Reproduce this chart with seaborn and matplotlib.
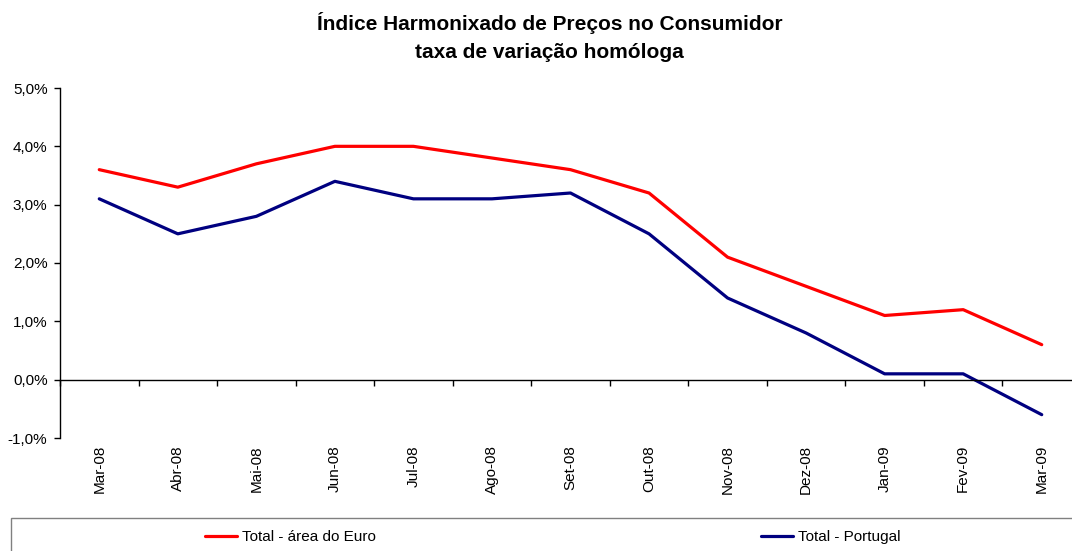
import numpy as np
import pandas as pd
import matplotlib
matplotlib.use("Agg")
import matplotlib.pyplot as plt
from matplotlib.patches import Rectangle
from matplotlib.lines import Line2D
import seaborn as sns

# data (% year-on-year)
months = ["Mar-08", "Abr-08", "Mai-08", "Jun-08", "Jul-08", "Ago-08", "Set-08",
          "Out-08", "Nov-08", "Dez-08", "Jan-09", "Fev-09", "Mar-09"]
euro = [3.6, 3.3, 3.7, 4.0, 4.0, 3.8, 3.6, 3.2, 2.1, 1.6, 1.1, 1.2, 0.6]
portugal = [3.1, 2.5, 2.8, 3.4, 3.1, 3.1, 3.2, 2.5, 1.4, 0.8, 0.1, 0.1, -0.6]
series_names = ["Total - área do Euro", "Total - Portugal"]
colors = ["#FF0000", "#000080"]

df = pd.DataFrame({
    "pos": list(range(len(months))) * 2,
    "valor": euro + portugal,
    "serie": [series_names[0]] * len(euro) + [series_names[1]] * len(portugal),
})

sns.set_theme(style="white")
plt.rcParams["font.family"] = ["Liberation Sans", "DejaVu Sans"]
plt.rcParams["text.color"] = "black"
plt.rcParams["xtick.color"] = "black"
plt.rcParams["ytick.color"] = "black"

W, H = 1072, 551
fig = plt.figure(figsize=(W / 100, H / 100), dpi=100)
# axes placed in pixel terms; right edge runs past the figure like the original
left, right, top, bottom = 60, 1081, 88, 438
ax = fig.add_axes([left / W, 1 - bottom / H, (right - left) / W, (bottom - top) / H])

sns.lineplot(data=df, x="pos", y="valor", hue="serie", palette=colors,
             linewidth=2.3, ax=ax, legend=False)

ax.set_xlim(-0.5, 12.5)
ax.set_ylim(-1, 5)
ax.set_yticks(np.arange(-1, 6, 1))
ax.set_yticklabels([f"{v:.1f}%".replace(".", ",") for v in np.arange(-1, 6, 1)])
ax.tick_params(axis="y", length=4, width=1, color="black", pad=5, labelsize=11,
               left=True, labelcolor="black")

for s in ["top", "right"]:
    ax.spines[s].set_visible(False)
ax.spines["left"].set_color("black")
ax.spines["left"].set_linewidth(1)
ax.spines["bottom"].set_position(("data", 0))
ax.spines["bottom"].set_color("black")
ax.spines["bottom"].set_linewidth(1)

ax.set_xticks(np.arange(-0.5, 13, 1))
ax.tick_params(axis="x", length=4, width=1, color="black", direction="out",
               bottom=True, labelbottom=False)
ax.set_xlabel("")
ax.set_ylabel("")

# month labels sit under the plot area
sec = ax.secondary_xaxis(0.0)
sec.set_xticks(range(len(months)), labels=months)
sec.tick_params(length=0, pad=5, labelsize=11, rotation=90, labelcolor="black")
sec.spines["bottom"].set_visible(False)

fig.text(0.5125, 1 - 37 / H,
         "Índice Harmonixado de Preços no Consumidor\ntaxa de variação homóloga",
         ha="center", va="center", fontsize=15, fontweight="bold",
         linespacing=1.55, color="black")

# legend box along the bottom
fig.patches.append(Rectangle((11 / W, -0.1), 1.2, (H - 518) / H + 0.1,
                             transform=fig.transFigure, fill=False,
                             edgecolor="#808080", linewidth=1))
for name, col, x0 in zip(series_names, colors, [205, 761]):
    h = Line2D([], [], color=col, linewidth=2.3)
    leg = fig.legend([h], [name], loc="center left",
                     bbox_to_anchor=(x0 / W, 1 - 537 / H), frameon=False,
                     fontsize=11, handlelength=2.1, handletextpad=0.3,
                     borderpad=0, borderaxespad=0, labelcolor="black")

fig.savefig("out.png", dpi=100)
